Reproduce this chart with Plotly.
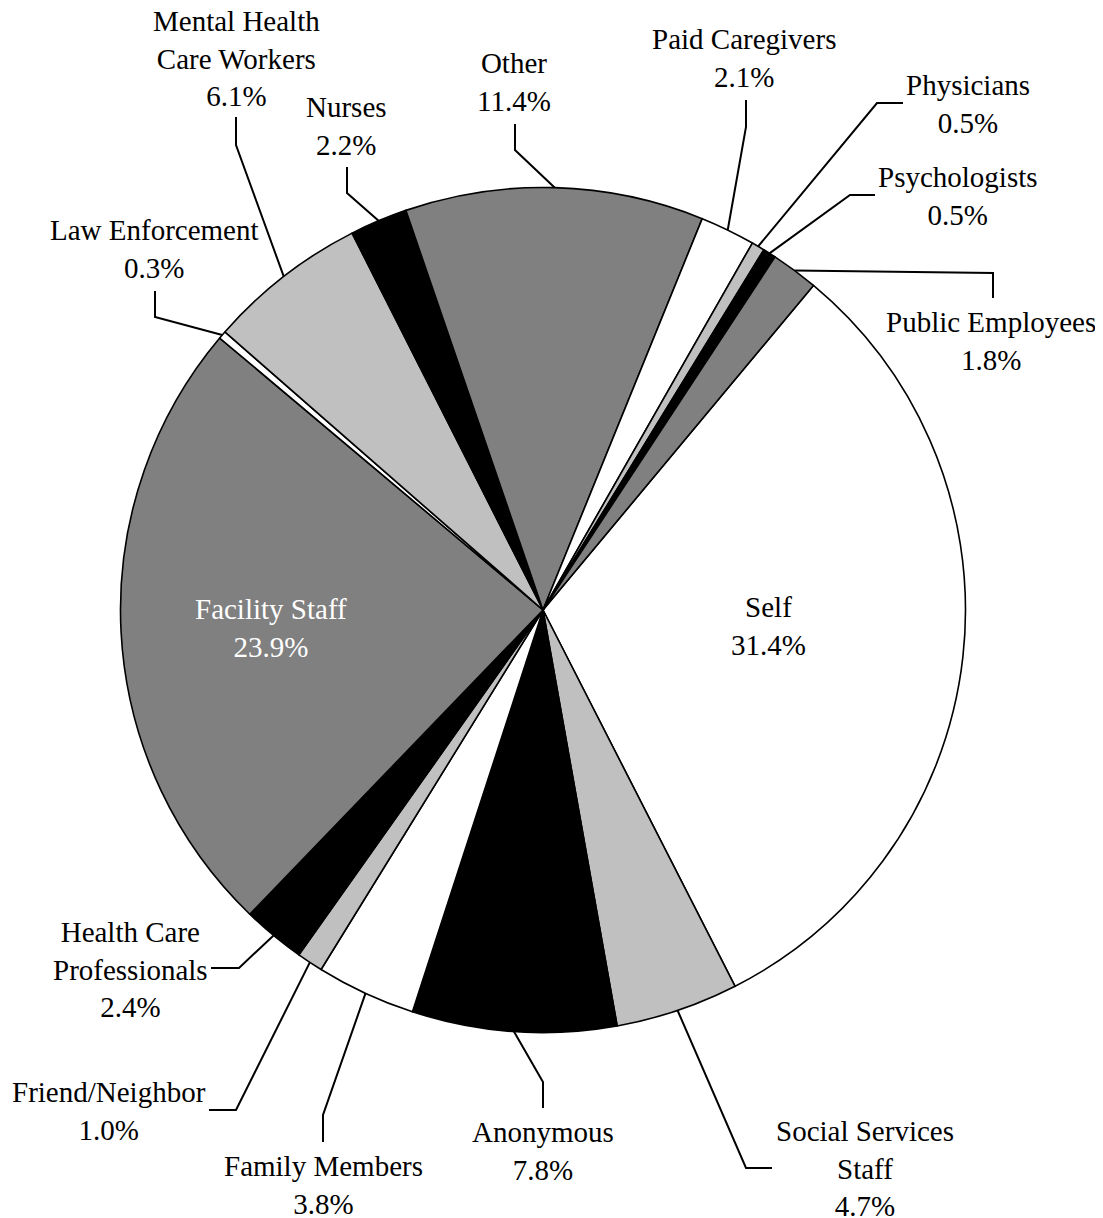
import math
import plotly.graph_objects as go

# ---------------- data ----------------
categories = ["Self", "Social Services Staff", "Anonymous", "Family Members",
              "Friend/Neighbor", "Health Care Professionals", "Facility Staff",
              "Law Enforcement", "Mental Health Care Workers", "Nurses", "Other",
              "Paid Caregivers", "Physicians", "Psychologists", "Public Employees"]
percentages = [31.4, 4.7, 7.8, 3.8, 1.0, 2.4, 23.9, 0.3, 6.1, 2.2, 11.4, 2.1, 0.5, 0.5, 1.8]
display_labels = ["Self", "Social Services<br>Staff", "Anonymous", "Family Members",
                  "Friend/Neighbor", "Health Care<br>Professionals", "Facility Staff",
                  "Law Enforcement", "Mental Health<br>Care Workers", "Nurses", "Other",
                  "Paid Caregivers", "Physicians", "Psychologists", "Public Employees"]

# ---------------- styles / layout ----------------
OFF = 8                      # page body margin in the browser
W, H = 1103 - OFF, 1218 - OFF
CX, CY, R = 543.0, 610.0, 422.5   # screen pixel coords
ROTATION = 39.8
FONT = "Liberation Serif, Times New Roman, serif"
FS = 29

colors = ["#FFFFFF", "#C0C0C0", "#000000", "#FFFFFF", "#C0C0C0", "#000000", "#808080",
          "#FFFFFF", "#C0C0C0", "#000000", "#808080", "#FFFFFF", "#C0C0C0", "#000000", "#808080"]

# label placement (screen pixel coords): text centre, and leader-line points from pie edge outward
label_layout = {
    "Self": dict(text=(768, 626), path=None, color="black"),
    "Facility Staff": dict(text=(271, 628), path=None, color="white"),
    "Social Services Staff": dict(text=(865, 1168), path=[(746, 1168), (772, 1168)]),
    "Anonymous": dict(text=(543, 1151), path=[(543, 1082), (543, 1108)]),
    "Family Members": dict(text=(323, 1185), path=[(323, 1115), (323, 1142)]),
    "Friend/Neighbor": dict(text=(109, 1111), path=[(236, 1110), (209, 1110)]),
    "Health Care Professionals": dict(text=(130, 969), path=[(239, 968), (211, 968)]),
    "Law Enforcement": dict(text=(154, 249), path=[(155, 317), (155, 291)]),
    "Mental Health Care Workers": dict(text=(236, 59), path=[(236, 145), (236, 117)]),
    "Nurses": dict(text=(346, 126), path=[(347, 193), (347, 167)]),
    "Other": dict(text=(514, 82), path=[(515, 150), (515, 124)]),
    "Paid Caregivers": dict(text=(744, 58), path=[(746, 127), (746, 100)]),
    "Physicians": dict(text=(968, 104), path=[(877, 103), (903, 103)]),
    "Psychologists": dict(text=(958, 196), path=[(850, 195), (875, 195)]),
    "Public Employees": dict(text=(991, 341), path=[(993, 273), (993, 298)]),
}


def px_to_paper(x, y):
    return (x - OFF) / W, 1 - (y - OFF) / H


fig = go.Figure()
fig.add_trace(go.Pie(
    labels=categories,
    values=percentages,
    sort=False,
    direction="clockwise",
    rotation=ROTATION,
    marker=dict(colors=colors, line=dict(color="black", width=1.6)),
    textinfo="none",
    hoverinfo="label+percent",
    showlegend=False,
    domain=dict(x=[(CX - R - OFF) / W, (CX + R - OFF) / W],
                y=[1 - (CY + R - OFF) / H, 1 - (CY - R - OFF) / H]),
))

total = sum(percentages)
annotations = []
shapes = []
cum = 0.0
for cat, lab, val in zip(categories, display_labels, percentages):
    mid = ROTATION + (cum + val / 2) / total * 360.0
    cum += val
    lay = label_layout[cat]
    tx, ty = lay["text"]
    ax, ay = px_to_paper(tx, ty)
    annotations.append(dict(
        x=ax, y=ay, xref="paper", yref="paper", xanchor="center", yanchor="middle",
        text=f"{lab}<br>{val:.1f}%", showarrow=False, align="center",
        font=dict(family=FONT, size=FS, color=lay.get("color", "black")),
    ))
    if lay["path"]:
        a = math.radians(mid)
        ex, ey = CX + R * math.sin(a), CY - R * math.cos(a)
        pts = [(ex, ey)] + lay["path"]
        d = ""
        for i, (x, y) in enumerate(pts):
            px, py = px_to_paper(x, y)
            d += ("M" if i == 0 else " L") + f" {px:.5f} {py:.5f}"
        shapes.append(dict(type="path", path=d, xref="paper", yref="paper",
                           line=dict(color="black", width=2)))

fig.update_layout(
    width=W, height=H,
    margin=dict(l=0, r=0, t=0, b=0),
    paper_bgcolor="white", plot_bgcolor="white",
    annotations=annotations, shapes=shapes,
)

fig.write_html("out.html")
